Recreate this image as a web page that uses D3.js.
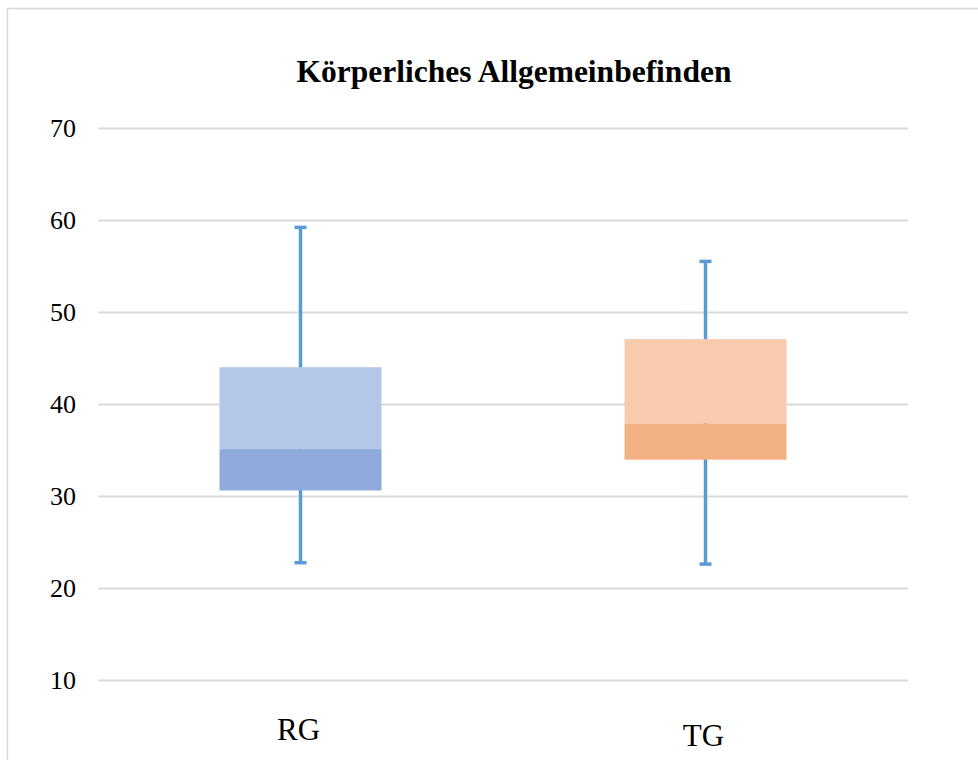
<!DOCTYPE html>
<html>
<head>
<meta charset="utf-8">
<script src="https://cdn.jsdelivr.net/npm/d3@7"></script>
<style>
  html, body { margin: 0; padding: 0; background: #fff; }
  svg { display: block; }
</style>
</head>
<body>
<svg id="chart" width="978" height="760"></svg>
<script>
const categories = ["RG", "TG"];
const minValues    = [22.75, 22.6];
const q1Values     = [30.6, 33.95];
const medianValues = [35.1, 37.9];
const q3Values     = [44.0, 47.05];
const maxValues    = [59.2, 55.5];
const yTicks = [10, 20, 30, 40, 50, 60, 70];
const title = "Körperliches Allgemeinbefinden";

const lowerColors = ["#8FAADC", "#F4B183"];
const upperColors = ["#B4C7E7", "#F8CBAD"];
const whiskerColor = "#5B9BD5";

const svg = d3.select("#chart");
const serif = "'Liberation Serif', 'Times New Roman', serif";

// chart border
svg.append("rect")
  .attr("x", 7.5).attr("y", 8.5)
  .attr("width", 1000).attr("height", 1000)
  .attr("fill", "#fff")
  .attr("stroke", "#d9d9d9").attr("stroke-width", 1.5);

const x = d3.scaleBand().domain(categories).range([98, 908])
  .paddingInner(0.6).paddingOuter(0.3);
const y = d3.scaleLinear().domain([10, 70]).range([680, 128]);

// gridlines + tick labels via axis
const yAxis = d3.axisLeft(y).tickValues(yTicks).tickSize(-(908 - 98)).tickPadding(22);
const gy = svg.append("g").attr("transform", "translate(98,0)").call(yAxis);
gy.select(".domain").remove();
gy.selectAll(".tick line").attr("stroke", "#d9d9d9").attr("stroke-width", 1.8);
gy.selectAll(".tick text")
  .attr("font-family", serif).attr("font-size", 26).attr("fill", "#000")
  .attr("dy", "0.34em");

// title
svg.append("text")
  .attr("x", 514).attr("y", 82)
  .attr("text-anchor", "middle")
  .attr("font-family", serif).attr("font-weight", "bold").attr("font-size", 31.5)
  .attr("fill", "#000")
  .text(title);

const data = categories.map((c, i) => ({
  c, i, min: minValues[i], q1: q1Values[i], med: medianValues[i], q3: q3Values[i], max: maxValues[i]
}));

const g = svg.append("g");
const cx = d => x(d.c) + x.bandwidth() / 2;
const capW = 12;

// whiskers
g.selectAll(".whisker").data(data).enter().append("line")
  .attr("x1", cx).attr("x2", cx)
  .attr("y1", d => y(d.min)).attr("y2", d => y(d.max))
  .attr("stroke", whiskerColor).attr("stroke-width", 3.5);
["min", "max"].forEach(k => {
  g.selectAll(".cap-" + k).data(data).enter().append("line")
    .attr("x1", d => cx(d) - capW / 2).attr("x2", d => cx(d) + capW / 2)
    .attr("y1", d => y(d[k])).attr("y2", d => y(d[k]))
    .attr("stroke", whiskerColor).attr("stroke-width", 3.5);
});

// lower box (q1 -> median)
g.selectAll(".lower").data(data).enter().append("rect")
  .attr("x", d => x(d.c)).attr("width", x.bandwidth())
  .attr("y", d => y(d.med)).attr("height", d => y(d.q1) - y(d.med))
  .attr("fill", d => lowerColors[d.i]);
// upper box (median -> q3)
g.selectAll(".upper").data(data).enter().append("rect")
  .attr("x", d => x(d.c)).attr("width", x.bandwidth())
  .attr("y", d => y(d.q3)).attr("height", d => y(d.med) - y(d.q3))
  .attr("fill", d => upperColors[d.i]);

// category labels
const labelY = [740, 746];
svg.selectAll(".cat").data(data).enter().append("text")
  .attr("x", d => cx(d) - 2).attr("y", d => labelY[d.i])
  .attr("text-anchor", "middle")
  .attr("font-family", serif).attr("font-size", 31)
  .attr("fill", "#000")
  .text(d => d.c);
</script>
</body>
</html>
